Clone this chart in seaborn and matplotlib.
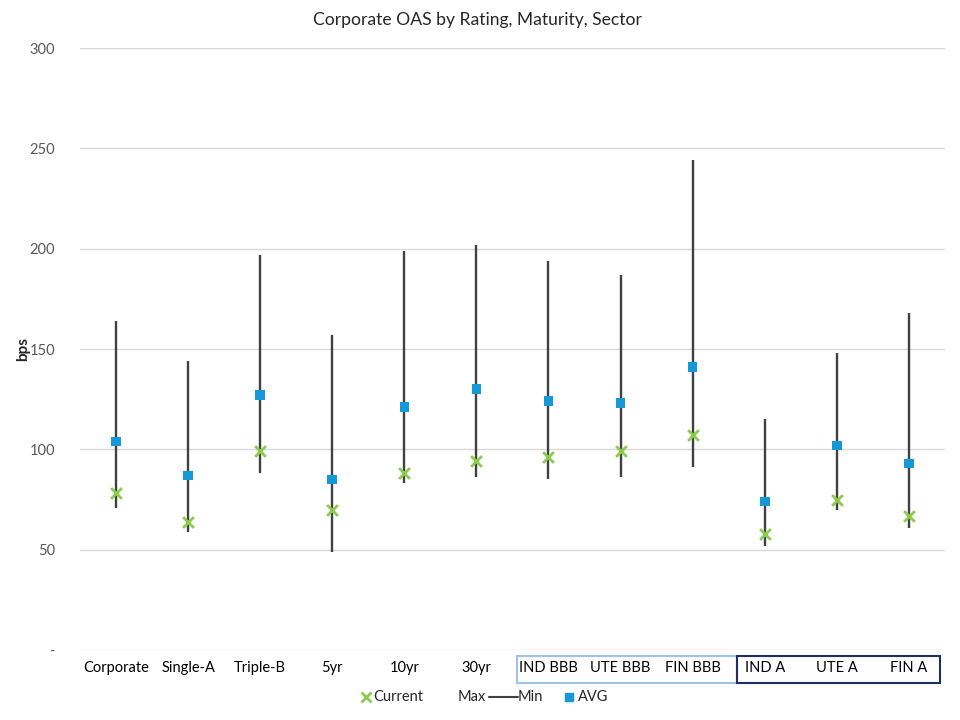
import matplotlib
matplotlib.use("Agg")
import matplotlib.pyplot as plt
import numpy as np
import pandas as pd
import seaborn as sns
from matplotlib.lines import Line2D
from matplotlib.patches import Rectangle
import matplotlib.transforms as mtransforms

categories = ["Corporate", "Single-A", "Triple-B", "5yr", "10yr", "30yr",
              "IND BBB", "UTE BBB", "FIN BBB", "IND A", "UTE A", "FIN A"]
max_oas = [164, 144, 197, 157, 199, 202, 194, 187, 244, 115, 148, 168]
min_oas = [71, 59, 88, 49, 83, 86, 85, 86, 91, 52, 70, 61]
avg_oas = [104, 87, 127, 85, 121, 130, 124, 123, 141, 74, 102, 93]
current_oas = [78, 64, 99, 70, 88, 94, 96, 99, 107, 58, 75, 67]
y_ticks = [0, 50, 100, 150, 200, 250, 300]

df = pd.DataFrame({"category": categories, "max": max_oas, "min": min_oas,
                   "avg": avg_oas, "current": current_oas})

sns.set_theme(style="white")
plt.rcParams["font.family"] = ["Lato", "DejaVu Sans"]

GREEN = "#8CCB4E"
BLUE = "#1499D6"
LINE = "#404040"

fig = plt.figure(figsize=(9.6, 7.2), dpi=100)
ax = fig.add_axes([0.0833, 0.0972, 0.9010, 0.8361])

pos = np.arange(len(df))
ax.vlines(pos, df["min"], df["max"], color=LINE, linewidth=1.7, zorder=2)
sns.scatterplot(data=df, x="category", y="avg", marker="s", s=48, color=BLUE,
                edgecolor="none", ax=ax, zorder=3)
sns.scatterplot(data=df, x="category", y="current", marker="x", s=60, color=GREEN,
                linewidth=2.0, ax=ax, zorder=4)

ax.set_xlim(-0.5, len(df) - 0.5)
ax.set_ylim(0, 300)
ax.set_yticks(y_ticks)
ax.set_yticklabels(["-" if v == 0 else str(v) for v in y_ticks])
ax.yaxis.grid(True, color="#D9D9D9", linewidth=1)
ax.set_axisbelow(True)
for s in ax.spines.values():
    s.set_visible(False)
ax.tick_params(axis="both", length=0, labelsize=10.5, labelcolor="#595959")
ax.tick_params(axis="x", labelcolor="#000000", pad=8)
ax.tick_params(axis="y", pad=18)
ax.set_xlabel("")
ax.set_ylabel("bps", fontsize=11, fontweight="bold")
ax.yaxis.set_label_coords(-0.058, 0.5)

fig.text(0.497, 1 - 20 / 720, "Corporate OAS by Rating, Maturity, Sector",
         fontsize=12.6, ha="center", va="center")

# group boxes around the sector labels
trans = mtransforms.blended_transform_factory(ax.transData, ax.transAxes)
ax.add_patch(Rectangle((5.56, -0.055), 3.05, 0.045, transform=trans, fill=False,
                       edgecolor="#9DC3E6", linewidth=1.5, clip_on=False))
ax.add_patch(Rectangle((8.61, -0.055), 2.82, 0.045, transform=trans, fill=False,
                       edgecolor="#1F2F5F", linewidth=1.5, clip_on=False))

# legend
ly = 1 - 697 / 720
fig.add_artist(Line2D([366 / 960], [ly], marker="x", color=GREEN, markersize=7,
                      markeredgewidth=2, linestyle="none"))
fig.text(373 / 960, ly, "Current", fontsize=10.5, va="center", ha="left")
fig.text(458 / 960, ly, "Max", fontsize=10.5, va="center", ha="left")
fig.add_artist(Line2D([489 / 960, 518 / 960], [ly, ly], color=LINE, linewidth=1.5))
fig.text(518 / 960, ly, "Min", fontsize=10.5, va="center", ha="left")
fig.add_artist(Line2D([569 / 960], [ly], marker="s", color=BLUE, markersize=6,
                      linestyle="none"))
fig.text(578 / 960, ly, "AVG", fontsize=10.5, va="center", ha="left")

fig.savefig("out.png", dpi=100)
